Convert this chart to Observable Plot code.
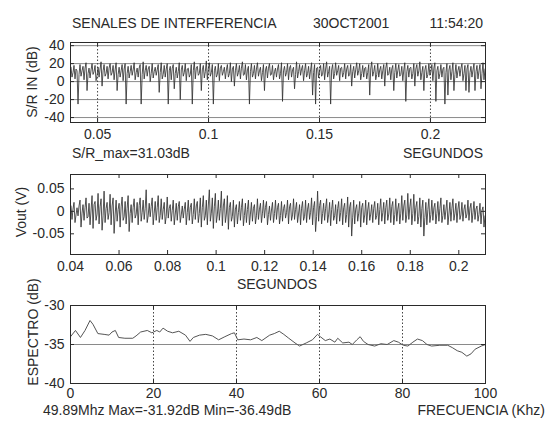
<!DOCTYPE html>
<html>
<head>
<meta charset="utf-8">
<script src="https://cdn.jsdelivr.net/npm/d3@7"></script>
<script src="https://cdn.jsdelivr.net/npm/@observablehq/plot@0.6"></script>
<style>
  html, body { margin: 0; padding: 0; background: #fff; }
  #root { position: relative; width: 547px; height: 423px; overflow: hidden; font-family: "Liberation Sans", Arial, sans-serif; color: #2a2a2a; }
  .t { position: absolute; font-size: 14px; white-space: nowrap; line-height: 1; }
  .rot { position: absolute; font-size: 14px; white-space: nowrap; line-height: 1; transform: translate(-50%, -50%) rotate(-90deg); }
  .panel { position: absolute; left: 0; }
</style>
</head>
<body>
<div id="root"></div>
<script>
// ---------- Texts ----------
const titleParts = ["SENALES DE INTERFERENCIA", "30OCT2001", "11:54:20"];
const topYLabel = "S/R IN (dB)";
const topNote = "S/R_max=31.03dB";
const timeLabel = "SEGUNDOS";
const midYLabel = "Vout (V)";
const botYLabel = "ESPECTRO (dB)";
const botNote = "49.89Mhz  Max=-31.92dB Min=-36.49dB";
const freqLabel = "FRECUENCIA (Khz)";

// ---------- Panel 1: S/R IN (dB) vs time (per-bin high / low / middle readings) ----------
const topTimeStart = 0.0378, topTimeEnd = 0.2248;
const topXTicks = [0.05, 0.1, 0.15, 0.2];
const topYTicks = [-40, -20, 0, 20, 40];
const topHi = [16,18,12,19,17,21,15,20,18,16,22,19,17,20,18,21,16,19,20,17,
  18,21,15,19,22,18,17,20,16,19,21,18,20,17,19,16,21,18,20,15,
  19,22,17,20,18,23,21,19,17,20,18,16,19,21,17,20,18,22,19,17,
  20,18,21,16,19,17,20,18,15,19,21,17,20,18,16,22,19,18,20,17,
  21,19,16,18,20,22,17,19,21,18,16,20,18,19,17,21,20,18,16,19,
  22,18,20,17,19,21,16,18,20,19,17,21,18,16,20,19,22,17,18,20,
  19,21,17,19,16,20,18,21,19,17,20,18,19,17,20,18,19,21];
const topLo = [5,3,-25,6,2,-10,4,8,1,5,
  -5,6,3,7,2,-10,5,1,-25,4,
  7,2,5,-25,3,6,0,4,7,-12,
  3,5,-25,2,-8,4,-20,6,1,5,
  -25,3,7,-10,4,2,6,-25,5,1,
  7,3,5,0,-5,6,3,7,2,-25,
  5,3,6,1,-10,4,7,2,5,3,
  -22,6,2,5,-8,4,7,1,5,3,
  -15,-25,4,6,2,5,-25,3,7,1,
  5,3,6,-5,4,7,2,5,3,-15,
  6,2,5,3,-5,7,2,-10,4,6,
  1,-22,5,3,-5,6,2,-10,4,7,
  1,-22,3,5,-25,-15,2,-10,4,6,
  1,-10,-12,5,-10,3,-8,2];
const topMid = [10,14,8,12,15,9,13,11,7,14,12,9,15,10,13,8,12,14,9,11,
  13,10,15,8,12,14,9,11,13,10,8,14,12,15,9,11,13,10,14,8,
  12,15,9,13,11,14,10,12,8,15,11,13,9,14,12,10,15,8,13,11,
  9,14,12,10,13,15,8,11,14,9,12,10,15,13,8,11,14,12,9,13,
  10,15,12,8,14,11,13,9,12,15,10,14,8,11,13,12,9,15,10,14,
  11,8,13,12,15,9,14,10,12,8,13,11,15,9,14,12,10,13,8,11,
  15,12,9,14,10,13,11,8,12,15,9,14,10,13,11,12,9,14];

// ---------- Panel 2: Vout (V) vs time ----------
const midTimeStart = 0.04, midTimeEnd = 0.211;
const midXTicks = [0.04, 0.06, 0.08, 0.1, 0.12, 0.14, 0.16, 0.18, 0.2];
const midYTicks = [-0.05, 0, 0.05];
const midHi = [0.012,0.02,0.008,0.025,0.015,0.03,0.018,0.035,0.022,0.04,
  0.028,0.045,0.02,0.038,0.03,0.025,0.018,0.032,0.022,0.035,
  0.015,0.028,0.02,0.03,0.025,0.048,0.018,0.03,0.022,0.035,
  0.028,0.02,0.032,0.015,0.025,0.018,0.022,0.012,0.02,0.025,
  0.018,0.028,0.022,0.03,0.035,0.025,0.048,0.03,0.04,0.025,
  0.045,0.028,0.035,0.02,0.025,0.015,0.022,0.028,0.018,0.025,
  0.02,0.015,0.028,0.018,0.025,0.022,0.012,0.02,0.025,0.018,
  0.022,0.015,0.025,0.018,0.028,0.02,0.015,0.022,0.025,0.018,
  0.03,0.022,0.045,0.025,0.018,0.028,0.02,0.025,0.015,0.022,
  0.028,0.018,0.032,0.02,0.025,0.015,0.022,0.018,0.025,0.02,
  0.015,0.022,0.018,0.028,0.02,0.025,0.03,0.022,0.028,0.018,
  0.035,0.025,0.04,0.028,0.038,0.022,0.03,0.025,0.02,0.028,
  0.025,0.018,0.022,0.03,0.015,0.025,0.02,0.028,0.018,0.022,
  0.02,0.015,0.025,0.018,0.022,0.012,0.018,0.01];
const midLo = [-0.018,-0.025,-0.01,-0.035,-0.02,-0.015,-0.03,-0.038,-0.02,-0.028,
  -0.042,-0.025,-0.018,-0.03,-0.049,-0.022,-0.035,-0.02,-0.028,-0.045,
  -0.025,-0.015,-0.03,-0.022,-0.018,-0.025,-0.012,-0.03,-0.02,-0.025,
  -0.018,-0.028,-0.015,-0.022,-0.03,-0.02,-0.025,-0.015,-0.03,-0.02,
  -0.028,-0.018,-0.025,-0.035,-0.02,-0.03,-0.022,-0.038,-0.025,-0.02,
  -0.032,-0.025,-0.04,-0.022,-0.035,-0.028,-0.02,-0.032,-0.025,-0.03,
  -0.022,-0.028,-0.018,-0.025,-0.015,-0.03,-0.02,-0.025,-0.018,-0.028,
  -0.022,-0.015,-0.028,-0.02,-0.018,-0.025,-0.03,-0.02,-0.025,-0.018,
  -0.03,-0.045,-0.022,-0.028,-0.02,-0.025,-0.032,-0.02,-0.028,-0.022,
  -0.03,-0.025,-0.035,-0.055,-0.028,-0.022,-0.035,-0.025,-0.03,-0.02,
  -0.025,-0.018,-0.03,-0.022,-0.028,-0.02,-0.025,-0.03,-0.022,-0.028,
  -0.02,-0.025,-0.018,-0.03,-0.022,-0.028,-0.035,-0.055,-0.03,-0.025,
  -0.02,-0.028,-0.022,-0.025,-0.018,-0.03,-0.022,-0.02,-0.025,-0.018,
  -0.022,-0.015,-0.02,-0.025,-0.018,-0.022,-0.028,-0.035];
const midMid = [0.005,-0.008,0.012,-0.004,0.008,-0.012,0.003,0.015,-0.006,0.01,
  -0.01,0.006,-0.003,0.012,-0.008,0.004,0.01,-0.012,0.007,-0.005,
  0.009,-0.007,0.013,-0.002,0.006,-0.01,0.011,-0.004,0.008,-0.009,
  0.004,-0.011,0.007,0.002,-0.006,0.01,-0.008,0.005,-0.003,0.009,
  -0.007,0.012,-0.005,0.008,-0.01,0.014,-0.004,0.01,-0.008,0.006,
  0.012,-0.006,0.009,-0.011,0.005,-0.003,0.008,-0.009,0.004,-0.006,
  0.007,-0.01,0.005,-0.004,0.009,-0.007,0.003,-0.005,0.008,-0.009,
  0.006,-0.003,0.01,-0.008,0.004,-0.006,0.007,-0.011,0.005,-0.002,
  0.009,-0.012,0.013,-0.005,0.007,-0.008,0.004,-0.01,0.006,-0.003,
  0.008,-0.007,0.01,-0.013,0.005,-0.004,0.009,-0.008,0.003,-0.006,
  0.007,-0.009,0.004,-0.003,0.008,-0.006,0.011,-0.007,0.005,-0.004,
  0.012,-0.008,0.01,-0.005,0.009,-0.011,0.006,-0.014,0.004,-0.007,
  0.008,-0.005,0.006,-0.009,0.003,-0.006,0.007,-0.004,0.005,-0.008,
  0.004,-0.006,0.007,-0.003,0.005,-0.007,0.002,-0.01];

// ---------- Panel 3: spectrum ----------
const freqKhz = [0,1.2,2.4,3.5,4.7,5.4,6.6,8.1,9.3,10,10.8,11.6,13.1,15,15.8,16.9,18.5,19.6,20.8,21.5,
  22.3,23.4,24.6,26.1,27.7,28.8,29.6,31.1,32.6,34.2,35.7,37.2,38.8,39.5,40.3,41.8,43.4,44.9,46.1,48,
  49.1,50.3,51.4,52.6,54.1,55.2,56.8,58.3,59.5,60.2,61.4,62.5,63.7,64.4,65.6,67.1,67.9,69,69.8,70.6,
  71.7,73.3,74.8,76.3,77.9,79,80.2,81.3,82.5,83.6,84.8,85.9,87,89,90.9,92,93.2,94.3,95.5,96.5,97.5,99,100];
const spectrumDb = [-34.0,-33.2,-34.1,-33.2,-31.92,-32.4,-33.6,-33.7,-33.8,-33.4,-33.2,-34.1,-34.2,-34.2,-33.9,-33.4,-33.2,-33.5,-33.2,-33.4,
  -32.9,-33.3,-33.5,-33.3,-33.8,-34.6,-34.1,-33.8,-33.7,-33.9,-34.4,-34.0,-33.6,-33.5,-34.4,-34.3,-34.4,-34.1,-34.5,-33.8,
  -33.6,-33.3,-33.7,-34.2,-34.8,-35.2,-34.8,-34.4,-33.7,-34.0,-34.5,-34.3,-34.7,-34.2,-34.8,-34.7,-35.0,-34.4,-34.0,-34.6,
  -35.0,-35.2,-34.9,-35.0,-34.5,-34.7,-35.1,-35.2,-34.7,-34.3,-34.5,-35.0,-35.2,-35.1,-35.1,-35.4,-35.8,-36.0,-36.49,-36.2,-35.6,-35.2,-35.0];
const freqTicks = [0, 20, 40, 60, 80, 100];
const freqGrid = [20, 40, 60, 80];
const specYTicks = [-40, -35, -30];

// ---------- helpers ----------
const root = document.getElementById("root");
function addText(txt, x, y, anchor, cls = "t") {
  const d = document.createElement("div");
  d.className = cls;
  d.textContent = txt;
  d.style.left = x + "px";
  d.style.top = y + "px";
  if (cls === "t") {
    const tx = anchor === "end" ? "-100%" : anchor === "middle" ? "-50%" : "0";
    d.style.transform = `translate(${tx}, -50%)`;
  }
  root.appendChild(d);
}
// Build a table from the high / low / middle readings of each time bin.
function traceRows(hi, lo, mid, t0, t1) {
  const n = hi.length, dt = (t1 - t0) / n, rows = [];
  for (let i = 0; i < n; i++) {
    rows.push({t: t0 + (i + 1 / 6) * dt, v: hi[i]});
    rows.push({t: t0 + (i + 3 / 6) * dt, v: lo[i]});
    rows.push({t: t0 + (i + 5 / 6) * dt, v: mid[i]});
  }
  return rows;
}
const fmt = d => String(d);
const ink = "#2a2a2a";
function panel({top, height, mt, mb, xDomain, yDomain, xTicks, yTicks, marks, xPad = 7}) {
  const plotH = height - mt - mb, plotW = 547 - 70 - 62;
  const ty = (yDomain[1] - yDomain[0]) * 4 / plotH;
  const tx = (xDomain[1] - xDomain[0]) * 4 / plotW;
  const chart = Plot.plot({
    width: 547, height,
    marginLeft: 70, marginRight: 62, marginTop: mt, marginBottom: mb,
    style: {background: "transparent", overflow: "visible", fontFamily: "'Liberation Sans', Arial, sans-serif", fontSize: "14px", color: ink},
    x: {domain: xDomain}, y: {domain: yDomain},
    marks: [
      ...marks,
      Plot.ruleX(xTicks, {y1: yDomain[0], y2: yDomain[0] + ty, stroke: ink}),
      Plot.ruleX(xTicks, {y1: yDomain[1], y2: yDomain[1] - ty, stroke: ink}),
      Plot.ruleY(yTicks, {x1: xDomain[0], x2: xDomain[0] + tx, stroke: ink}),
      Plot.ruleY(yTicks, {x1: xDomain[1], x2: xDomain[1] - tx, stroke: ink}),
      Plot.frame({stroke: ink}),
      Plot.axisX(xTicks, {tickSize: 0, tickPadding: xPad, tickFormat: fmt, label: null, fontSize: 14, fill: ink}),
      Plot.axisY(yTicks, {tickSize: 0, tickPadding: 6, tickFormat: fmt, label: null, fontSize: 14, fill: ink})
    ]
  });
  chart.classList.add("panel");
  chart.style.top = top + "px";
  root.appendChild(chart);
}

// ---------- Panel 1 ----------
panel({
  top: 30, height: 125, mt: 12, mb: 33,
  xDomain: [topTimeStart, topTimeEnd], yDomain: [-45.5, 43.5], xTicks: topXTicks, yTicks: topYTicks,
  marks: [
    Plot.ruleY(topYTicks, {stroke: "#8a8a8a", strokeWidth: 1}),
    Plot.ruleX(topXTicks, {stroke: "#444", strokeDasharray: "1.5,2"}),
    Plot.line(traceRows(topHi, topLo, topMid, topTimeStart, topTimeEnd), {x: "t", y: "v", stroke: "#333", strokeWidth: 0.85})
  ]
});

// ---------- Panel 2 ----------
panel({
  top: 160, height: 125, mt: 14, mb: 31,
  xDomain: [midTimeStart, midTimeEnd], yDomain: [-0.096, 0.082], xTicks: midXTicks, yTicks: midYTicks,
  marks: [
    Plot.line(traceRows(midHi, midLo, midMid, midTimeStart, midTimeEnd), {x: "t", y: "v", stroke: "#333", strokeWidth: 0.85})
  ]
});

// ---------- Panel 3 ----------
const spec = freqKhz.map((f, i) => ({f, db: spectrumDb[i]}));
panel({
  top: 295, height: 120, mt: 10, mb: 32, xPad: 5,
  xDomain: [0, 100], yDomain: [-40, -30], xTicks: freqTicks, yTicks: specYTicks,
  marks: [
    Plot.ruleY([-35], {stroke: "#8a8a8a"}),
    Plot.ruleX(freqGrid, {stroke: "#444", strokeDasharray: "1.5,2"}),
    Plot.line(spec, {x: "f", y: "db", stroke: "#555", strokeWidth: 1})
  ]
});

// ---------- Texts ----------
addText(titleParts[0], 72, 23, "start");
addText(titleParts[1], 313, 23, "start");
addText(titleParts[2], 483, 23, "end");
addText(topNote, 72, 153, "start");
addText(timeLabel, 483, 153, "end");
addText(timeLabel, 277, 284, "middle");
addText(botNote, 43, 410, "start");
addText(freqLabel, 545, 410, "end");
addText(topYLabel, 32, 82, null, "rot");
addText(midYLabel, 21, 212, null, "rot");
addText(botYLabel, 33, 332, null, "rot");
</script>
</body>
</html>
